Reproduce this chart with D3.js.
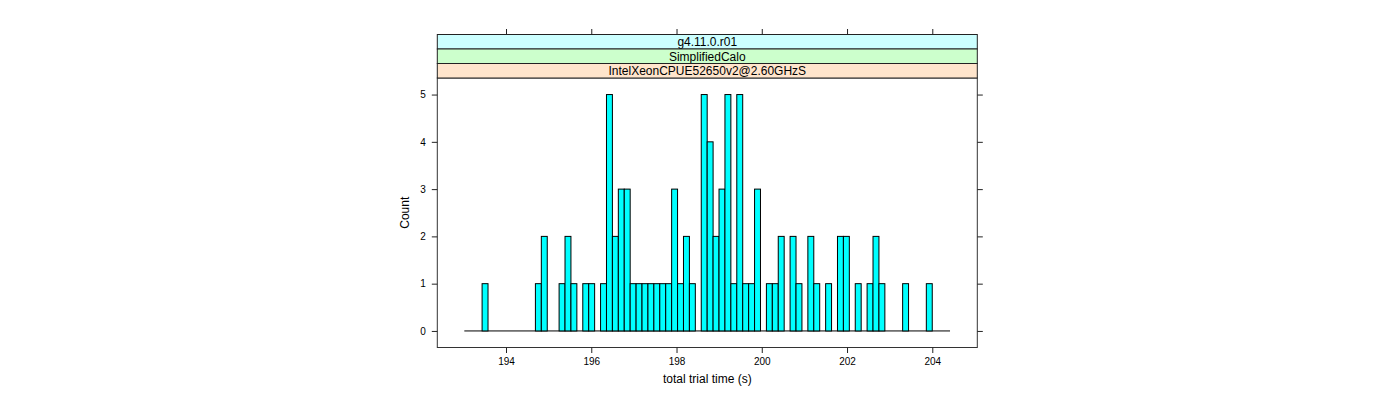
<!DOCTYPE html>
<html>
<head>
<meta charset="utf-8">
<script src="https://cdn.jsdelivr.net/npm/d3@7"></script>
<style>
  html, body { margin: 0; padding: 0; background: #fff; }
  svg text { font-family: "Liberation Sans", Arial, Helvetica, sans-serif; }
</style>
</head>
<body>
<svg id="chart" width="1400" height="400"></svg>
<script>
// ---- data ----
const stripLabels = ["g4.11.0.r01", "SimplifiedCalo", "IntelXeonCPUE52650v2@2.60GHzS"];
const stripColors = ["#ccffff", "#ccffcc", "#ffe5cc"];
const breaksRange = [193.022, 204.416];   // first and last histogram break
const counts = [
  0,0,0,1,0,0,0,0,0,0,
  0,0,1,2,0,0,1,2,1,0,
  1,1,0,1,5,2,3,3,1,1,
  1,1,1,1,1,3,1,2,1,0,
  5,4,2,3,5,1,5,1,1,3,
  0,1,1,2,0,2,1,0,2,1,
  0,1,0,2,2,0,1,0,1,2,
  1,0,0,0,1,0,0,0,1,0,
  0,0
];
const xTicks = [194, 196, 198, 200, 202, 204];
const yTicks = [0, 1, 2, 3, 4, 5];
const xLabel = "total trial time (s)";
const yLabel = "Count";

// ---- layout ----
const svg = d3.select("#chart");
const panel = { left: 437.3, right: 977.3, top: 78, bottom: 347.5 };
const stripTop = 34.5;
const stripH = (panel.top - stripTop) / stripLabels.length;

const x = d3.scaleLinear().domain([192.388, 205.056]).range([panel.left, panel.right]);
const y = d3.scaleLinear().domain([-0.35, 5.35]).range([panel.bottom, panel.top]);

const nb = counts.length;
const bw = (breaksRange[1] - breaksRange[0]) / nb;
const bins = counts.map((c, i) => ({
  x0: breaksRange[0] + i * bw,
  x1: breaksRange[0] + (i + 1) * bw,
  c
}));

// zero-height bins show as a line along the baseline
svg.append("line")
  .attr("x1", x(breaksRange[0])).attr("x2", x(breaksRange[1]))
  .attr("y1", y(0)).attr("y2", y(0))
  .attr("stroke", "#000").attr("stroke-width", 1);

// bars
svg.append("g").selectAll("rect").data(bins.filter(d => d.c > 0)).join("rect")
  .attr("x", d => x(d.x0))
  .attr("width", d => x(d.x1) - x(d.x0))
  .attr("y", d => y(d.c))
  .attr("height", d => y(0) - y(d.c))
  .attr("fill", "#00ffff")
  .attr("stroke", "#000")
  .attr("stroke-width", 1);

// panel border
svg.append("rect")
  .attr("x", panel.left).attr("y", panel.top)
  .attr("width", panel.right - panel.left).attr("height", panel.bottom - panel.top)
  .attr("fill", "none").attr("stroke", "#333").attr("stroke-width", 1);

// strips
stripLabels.forEach((lab, i) => {
  const y0 = stripTop + i * stripH;
  svg.append("rect")
    .attr("x", panel.left).attr("y", y0)
    .attr("width", panel.right - panel.left).attr("height", stripH)
    .attr("fill", stripColors[i]).attr("stroke", "#222").attr("stroke-width", 1);
  svg.append("text")
    .attr("x", (panel.left + panel.right) / 2)
    .attr("y", y0 + stripH / 2 + 4.3)
    .attr("text-anchor", "middle")
    .attr("font-size", 12)
    .attr("fill", "#000")
    .text(lab);
});

// axes
const tickLen = 5.5;
const styleAxis = g => {
  g.select(".domain").remove();
  g.selectAll(".tick line").attr("stroke", "#222");
  g.selectAll(".tick text").attr("font-size", 10).attr("fill", "#000")
    .attr("font-family", "'Liberation Sans', Arial, Helvetica, sans-serif");
};

svg.append("g").attr("transform", `translate(0,${panel.bottom})`)
  .call(d3.axisBottom(x).tickValues(xTicks).tickSize(tickLen).tickPadding(5).tickFormat(d3.format("d")))
  .call(styleAxis);

svg.append("g").attr("transform", `translate(0,${stripTop})`)
  .call(d3.axisTop(x).tickValues(xTicks).tickSize(tickLen).tickFormat(""))
  .call(styleAxis);

svg.append("g").attr("transform", `translate(${panel.left},0)`)
  .call(d3.axisLeft(y).tickValues(yTicks).tickSize(tickLen).tickPadding(6).tickFormat(d3.format("d")))
  .call(styleAxis);

svg.append("g").attr("transform", `translate(${panel.right},0)`)
  .call(d3.axisRight(y).tickValues(yTicks).tickSize(tickLen).tickFormat(""))
  .call(styleAxis);

// axis labels
svg.append("text")
  .attr("x", (panel.left + panel.right) / 2).attr("y", 382.5)
  .attr("text-anchor", "middle").attr("font-size", 12).attr("fill", "#000")
  .text(xLabel);

svg.append("text")
  .attr("transform", `translate(408.5,${(panel.top + panel.bottom) / 2}) rotate(-90)`)
  .attr("text-anchor", "middle").attr("font-size", 12).attr("fill", "#000")
  .text(yLabel);
</script>
</body>
</html>
